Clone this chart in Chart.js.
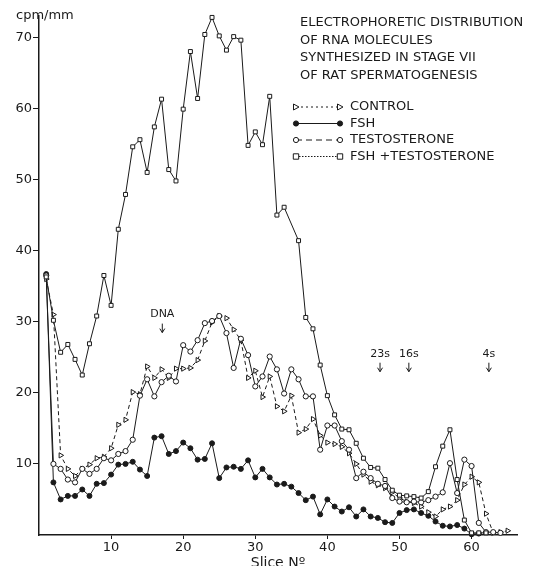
<!DOCTYPE html>
<html lang="en">
<head>
  <meta charset="UTF-8">
  <title>Electrophoretic distribution of RNA</title>
  <script src="https://cdn.jsdelivr.net/npm/chart.js"></script>
  <style>
    html, body { margin: 0; padding: 0; background: #fff; }
    #wrap { width: 539px; height: 566px; position: relative; }
  </style>
</head>
<body>
<div id="wrap"><canvas id="rnaChart"></canvas></div>
<script>
// slice numbers (x)
const slices = [1,2,3,4,5,6,7,8,9,10,11,12,13,14,15,16,17,18,19,20,
  21,22,23,24,25,26,27,28,29,30,31,32,33,34,35,36,37,38,39,40,
  41,42,43,44,45,46,47,48,49,50,51,52,53,54,55,56,57,58,59,60,
  61,62,63,64,65];

// cpm/mm
const control = [36.0,31.0,11.2,9.3,8.3,9.3,9.9,10.8,11.0,12.2,15.5,16.2,20.1,19.8,23.7,22.1,23.3,22.1,23.4,23.4,
  23.5,24.6,27.3,29.9,30.8,30.5,28.9,27.4,22.1,23.1,19.4,22.3,18.1,17.4,19.6,14.4,14.9,16.3,14.0,13.0,
  12.8,12.4,11.5,10.0,8.5,7.5,7.0,6.6,6.0,5.2,4.7,4.5,4.0,3.2,2.6,3.6,4.0,4.9,7.1,8.2,
  7.4,3.0,0.3,0.4,0.6];
const fsh = [36.7,7.4,5.0,5.5,5.5,6.4,5.5,7.2,7.3,8.5,9.9,10.0,10.3,9.2,8.3,13.7,13.9,11.4,11.8,13.0,
  12.2,10.6,10.7,12.9,8.0,9.5,9.6,9.3,10.5,8.1,9.3,8.1,7.1,7.2,6.8,5.9,4.9,5.4,2.9,5.0,
  4.0,3.3,3.9,2.6,3.6,2.6,2.4,1.8,1.7,3.1,3.5,3.6,3.1,2.7,1.9,1.3,1.2,1.4,0.9,0.1,
  0.2,null,null,null,null];
const testosterone = [36.5,10.0,9.3,7.8,7.4,9.3,8.6,9.3,10.8,10.5,11.4,11.8,13.4,19.6,21.9,19.5,21.5,22.4,21.6,26.7,
  25.8,27.4,29.8,30.1,30.8,28.4,23.5,27.6,25.3,20.9,22.3,25.1,23.3,19.9,23.3,21.9,19.5,19.5,12.0,15.4,
  15.4,13.2,12.0,8.0,8.9,8.0,7.2,6.9,5.2,4.7,4.6,4.7,4.6,4.9,5.4,6.0,10.1,5.9,10.6,9.7,
  1.7,0.4,0.4,0.3,null];
const fshTesto = [36.3,30.2,25.7,26.8,24.7,22.5,26.9,30.8,36.5,32.3,43.0,47.9,54.6,55.6,51.0,57.4,61.3,51.4,49.8,59.9,
  68.0,61.4,70.4,72.8,70.2,68.2,70.1,69.6,54.8,56.7,54.9,61.7,45.0,46.1,null,41.4,30.6,29.0,23.9,19.6,
  16.9,14.9,14.8,12.9,10.8,9.5,9.4,7.8,6.3,5.6,5.5,5.4,5.2,6.1,9.6,12.5,14.8,7.8,2.1,0.3,
  0.3,0.3,null,null,null];

const titleLines = ['ELECTROPHORETIC DISTRIBUTION', 'OF RNA MOLECULES', 'SYNTHESIZED IN STAGE VII', 'OF RAT SPERMATOGENESIS'];
const legendNames = ['CONTROL', 'FSH', 'TESTOSTERONE', 'FSH +TESTOSTERONE'];

// sedimentation markers
const markLabels = ['DNA', '23s', '16s', '4s'];
const markSlices = [17.1, 47.3, 51.3, 62.4];
const markLevels = [31, 25.5, 25.5, 25.5];

const ink = '#1a1a1a';
const fontName = '"DejaVu Sans", sans-serif';

function pts(arr) {
  return slices.map((s, i) => ({ x: s, y: arr[i] }));
}

function marker(ctx, kind, x, y) {
  ctx.save();
  ctx.setLineDash([]);
  ctx.lineWidth = 1;
  ctx.strokeStyle = ink;
  ctx.fillStyle = kind === 'dot' ? ink : '#fff';
  ctx.beginPath();
  if (kind === 'tri') {
    ctx.moveTo(x + 3, y); ctx.lineTo(x - 2.5, y - 3); ctx.lineTo(x - 2.5, y + 3); ctx.closePath();
  } else if (kind === 'sq') {
    ctx.rect(x - 2.7, y - 2.7, 5.4, 5.4);
  } else {
    ctx.arc(x, y, 2.6, 0, Math.PI * 2);
  }
  ctx.fill(); ctx.stroke();
  ctx.restore();
}

function arrow(ctx, x, y1, y2) {
  ctx.beginPath();
  ctx.moveTo(x, y1); ctx.lineTo(x, y2);
  ctx.moveTo(x - 2.5, y2 - 4); ctx.lineTo(x, y2); ctx.lineTo(x + 2.5, y2 - 4);
  ctx.stroke();
}

const notesPlugin = {
  id: 'notes',
  afterDraw(chart) {
    const ctx = chart.ctx;
    const xs = chart.scales.x, ys = chart.scales.y;
    ctx.save();
    ctx.fillStyle = ink;
    ctx.strokeStyle = ink;
    ctx.lineWidth = 1;

    // axis unit and title
    ctx.font = '13px ' + fontName;
    ctx.textAlign = 'left';
    ctx.textBaseline = 'middle';
    ctx.fillText('cpm/mm', 16, 16);
    ctx.font = '14px ' + fontName;
    ctx.textAlign = 'center';
    ctx.textBaseline = 'alphabetic';
    ctx.fillText('Slice Nº', (xs.left + xs.right) / 2, 567);

    // figure title
    ctx.font = '13px ' + fontName;
    ctx.textAlign = 'left';
    ctx.textBaseline = 'middle';
    const titleW = [229, 148, 227, 200];
    titleLines.forEach((t, i) => ctx.fillText(t, 300, 23 + i * 17.5, titleW[i]));

    // legend
    const kinds = ['tri', 'dot', 'circ', 'sq'];
    const dashes = [[2, 3], [], [6, 4], [1.5, 1.5]];
    const nameW = [67, 28, 113, 150];
    legendNames.forEach((n, i) => {
      const ly = 107 + i * 16.5;
      ctx.beginPath();
      ctx.setLineDash(dashes[i]);
      ctx.moveTo(296, ly); ctx.lineTo(340, ly);
      ctx.stroke();
      ctx.setLineDash([]);
      marker(ctx, kinds[i], 296, ly);
      marker(ctx, kinds[i], 340, ly);
      ctx.fillStyle = ink;
      ctx.fillText(n, 350, ly, nameW[i]);
    });

    // DNA / 23s / 16s / 4s markers
    ctx.font = '11px ' + fontName;
    ctx.textAlign = 'center';
    markLabels.forEach((m, i) => {
      const px = xs.getPixelForValue(markSlices[i]);
      const py = ys.getPixelForValue(markLevels[i]);
      ctx.fillText(m, px, py);
      arrow(ctx, px, py + 9, py + 18);
    });
    ctx.restore();
  }
};

new Chart(document.getElementById('rnaChart'), {
  type: 'line',
  data: {
    datasets: [
      { label: 'FSH +TESTOSTERONE', data: pts(fshTesto), pointStyle: 'rect', pointRadius: 2.8, spanGaps: true },
      { label: 'TESTOSTERONE', data: pts(testosterone), pointStyle: 'circle', pointRadius: 2.6 },
      { label: 'CONTROL', data: pts(control), pointStyle: 'triangle', rotation: 90, pointRadius: 3, borderDash: [4, 3] },
      { label: 'FSH', data: pts(fsh), pointStyle: 'circle', pointRadius: 2.5, pointBackgroundColor: ink }
    ].map(d => Object.assign({
      borderColor: ink,
      borderWidth: 1,
      pointBorderColor: ink,
      pointBackgroundColor: '#fff',
      pointBorderWidth: 1,
      tension: 0,
      clip: false
    }, d))
  },
  options: {
    responsive: true,
    maintainAspectRatio: false,
    animation: false,
    layout: { padding: { top: 16, right: 22, left: 0, bottom: 0 } },
    plugins: { legend: { display: false }, tooltip: { enabled: false } },
    scales: {
      x: {
        type: 'linear', min: 0, max: 66.3,
        ticks: { stepSize: 10, color: ink, padding: 1, font: { family: fontName, size: 13 } },
        afterBuildTicks: s => { s.ticks = s.ticks.filter(t => t.value > 0 && t.value % 10 === 0); },
        afterFit: s => { s.height = 31; },
        grid: { drawOnChartArea: false, tickLength: 4, color: ink },
        border: { color: ink, width: 1.5 }
      },
      y: {
        min: 0, max: 73,
        ticks: { stepSize: 10, color: ink, padding: 1, font: { family: fontName, size: 13 } },
        afterBuildTicks: s => { s.ticks = s.ticks.filter(t => t.value > 0 && t.value % 10 === 0); },
        afterFit: s => { s.width = 39; },
        grid: { drawOnChartArea: false, tickLength: 6, color: ink },
        border: { color: ink, width: 1.5 }
      }
    }
  },
  plugins: [notesPlugin]
});
</script>
</body>
</html>
